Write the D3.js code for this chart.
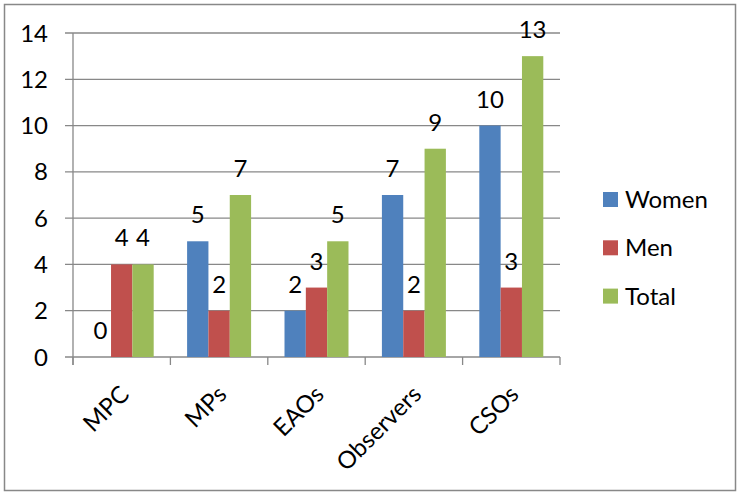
<!DOCTYPE html>
<html>
<head>
<meta charset="utf-8">
<script src="https://cdn.jsdelivr.net/npm/d3@7"></script>
<style>
  body { margin: 0; background: #fff; }
  text { font-family: Lato, "Open Sans", sans-serif; fill: #000; }
</style>
</head>
<body>
<script>
var categories = ['MPC', 'MPs', 'EAOs', 'Observers', 'CSOs']
var seriesNames = ['Women', 'Men', 'Total']
var women = [0, 5, 2, 7, 10]
var men = [4, 2, 3, 2, 3]
var total = [4, 7, 5, 9, 13]
var yTicks = [0, 2, 4, 6, 8, 10, 12, 14]
var colors = ['#4F81BD', '#C0504D', '#9BBB59']

var values = [women, men, total]

var W = 737, H = 494
var margin = { top: 33, left: 73 },
  plotW = 487,
  plotH = 324

var svg = d3.select('body').append('svg')
  .attr('width', W)
  .attr('height', H)

// outer frame
svg.append('rect')
  .attr('x', 4.5).attr('y', 4.5)
  .attr('width', 731).attr('height', 486)
  .attr('fill', '#fff')
  .attr('stroke', '#888')
  .attr('stroke-width', 1.5)

var g = svg.append('g')
  .attr('transform', 'translate(' + margin.left + ',' + margin.top + ')')

var y = d3.scaleLinear().domain([0, 14]).range([plotH, 0])

var x0 = d3.scaleBand()
  .domain(categories)
  .range([0, plotW])
  .paddingInner(0.343)
  .paddingOuter(0.1715)

var x1 = d3.scaleBand()
  .domain(seriesNames)
  .range([0, x0.bandwidth()])

// gridlines
g.append('g')
  .selectAll('line')
  .data(yTicks)
  .enter()
  .append('line')
  .attr('x1', -8)
  .attr('x2', plotW)
  .attr('y1', d => y(d))
  .attr('y2', d => y(d))
  .attr('stroke', '#888')
  .attr('stroke-width', 1.3)

// y axis labels
g.append('g')
  .selectAll('text')
  .data(yTicks)
  .enter()
  .append('text')
  .attr('x', -25)
  .attr('y', d => y(d))
  .attr('dy', '0.36em')
  .attr('text-anchor', 'end')
  .style('font-size', '24px')
  .text(d => d)

// bars
var rows = categories.map(function (c, i) {
  return seriesNames.map(function (s, j) {
    return { cat: c, series: s, value: values[j][i], color: colors[j] }
  })
})

var groups = g.selectAll('.group')
  .data(rows)
  .enter()
  .append('g')
  .attr('class', 'group')
  .attr('transform', (d, i) => 'translate(' + x0(categories[i]) + ',0)')

groups.selectAll('rect')
  .data(d => d)
  .enter()
  .append('rect')
  .attr('x', d => x1(d.series))
  .attr('width', x1.bandwidth())
  .attr('y', d => y(d.value))
  .attr('height', d => plotH - y(d.value))
  .attr('fill', d => d.color)

groups.selectAll('.val')
  .data(d => d)
  .enter()
  .append('text')
  .attr('class', 'val')
  .attr('x', d => x1(d.series) + x1.bandwidth() / 2)
  .attr('y', d => y(d.value) - 18)
  .attr('text-anchor', 'middle')
  .style('font-size', '24px')
  .text(d => d.value)

// y axis line and category ticks
g.append('line')
  .attr('x1', 0).attr('x2', 0)
  .attr('y1', 0).attr('y2', plotH + 8)
  .attr('stroke', '#888')
  .attr('stroke-width', 1.3)

var bounds = d3.range(categories.length + 1).map(i => i * x0.step())
g.append('g')
  .selectAll('line')
  .data(bounds)
  .enter()
  .append('line')
  .attr('x1', d => d).attr('x2', d => d)
  .attr('y1', plotH).attr('y2', plotH + 8)
  .attr('stroke', '#888')
  .attr('stroke-width', 1.3)

// category labels
g.append('g')
  .selectAll('text')
  .data(categories)
  .enter()
  .append('text')
  .attr('transform', d => 'translate(' + (x0(d) + x0.bandwidth() / 2 - 3) + ',' + (plotH + 27) + ') rotate(-45)')
  .attr('text-anchor', 'end')
  .attr('dy', '0.7em')
  .style('font-size', '24px')
  .text(d => d)

// legend
var legend = svg.append('g')
  .attr('transform', 'translate(603,192)')

var items = legend.selectAll('g')
  .data(seriesNames)
  .enter()
  .append('g')
  .attr('transform', (d, i) => 'translate(0,' + i * 48.3 + ')')

items.append('rect')
  .attr('width', 15).attr('height', 15)
  .attr('fill', (d, i) => colors[i])

items.append('text')
  .attr('x', 22)
  .attr('y', 7.5)
  .attr('dy', '0.36em')
  .style('font-size', '24px')
  .text(d => d)
</script>
</body>
</html>
